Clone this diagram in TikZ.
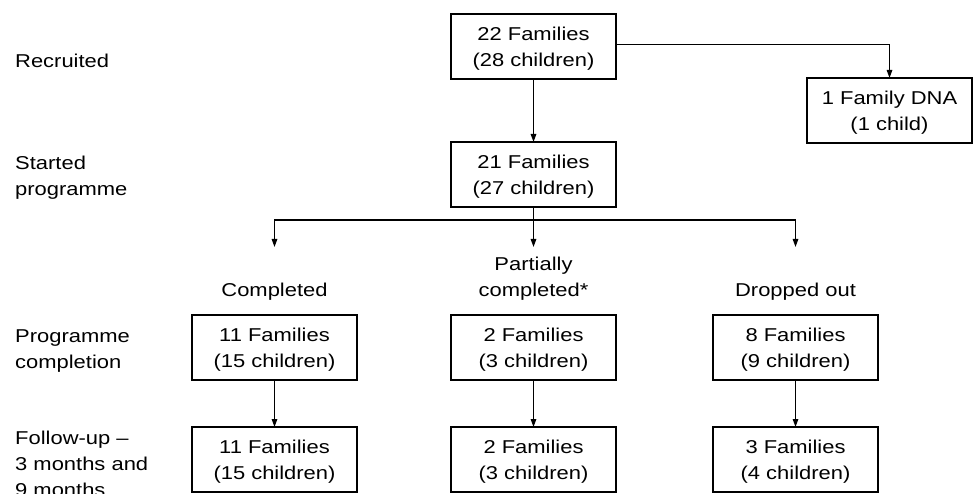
\documentclass[tikz,border=0pt]{standalone}
\usepackage{fontspec}
\setmainfont[FakeStretch=1.18]{Liberation Sans}
\usepackage{tikz}
\usetikzlibrary{positioning,arrows.meta}

\begin{document}
\begin{tikzpicture}[x=1pt, y=-1pt,
  font=\fontsize{18.6}{26}\selectfont,
  famBox/.style={draw, line width=1.3pt, minimum width=165pt, minimum height=65pt,
                 align=center, inner sep=0pt, outer sep=0pt, text depth=0pt},
  rowLbl/.style={anchor=base west, align=left, inner sep=0pt},
  headLbl/.style={anchor=south, align=center, inner sep=0pt, text depth=0pt},
  arr/.style={-{Triangle[length=8pt, width=5.5pt]}, line width=1.3pt},
]
\useasboundingbox (0,0) rectangle (974,494);

% boxes
\node[famBox] at (533.5,46.5) (rec) {22 Families\\(28 children)};
\node[famBox, below=63pt of rec] (start) {21 Families\\(27 children)};
\node[famBox, right=191pt of rec, yshift=-64pt] (dna) {1 Family DNA\\(1 child)};
\node[famBox, below=108pt of start] (part1) {2 Families\\(3 children)};
\node[famBox, left=94pt of part1] (comp1) {11 Families\\(15 children)};
\node[famBox, right=97pt of part1] (drop1) {8 Families\\(9 children)};
\node[famBox, below=47pt of comp1] (comp2) {11 Families\\(15 children)};
\node[famBox, below=47pt of part1] (part2) {2 Families\\(3 children)};
\node[famBox, below=47pt of drop1] (drop2) {3 Families\\(4 children)};

% column headings
\node[headLbl] at ([yshift=18.4pt]comp1.north) (hComp) {Completed};
\node[headLbl] at ([yshift=18.4pt]part1.north) (hPart) {Partially\\completed*};
\node[headLbl] at ([yshift=18.4pt]drop1.north) (hDrop) {Dropped out};

% row labels (base = last line)
\node[rowLbl] at (15,67.3) (lRec) {Recruited};
\node[rowLbl] at (15,196) (lStart) {Started\\programme};
\node[rowLbl] at (15,368) (lProg) {Programme\\completion};
\node[rowLbl] at (15,496) (lFol) {Follow-up --\\3 months and\\9 months};

% connectors
\coordinate[below=13pt of start] (split);
\coordinate[above=68pt of comp1] (tipC);
\coordinate[above=68pt of part1] (tipP);
\coordinate[above=68pt of drop1] (tipD);

\draw[arr] ([yshift=2pt]rec.east) -| (dna);
\draw[arr] (rec) -- (start);
\draw[arr] (start) -- (tipP);
\draw[arr] (split) -| (tipC);
\draw[arr] (split) -| (tipD);
\draw[arr] (comp1) -- (comp2);
\draw[arr] (part1) -- (part2);
\draw[arr] (drop1) -- (drop2);
\end{tikzpicture}
\end{document}
